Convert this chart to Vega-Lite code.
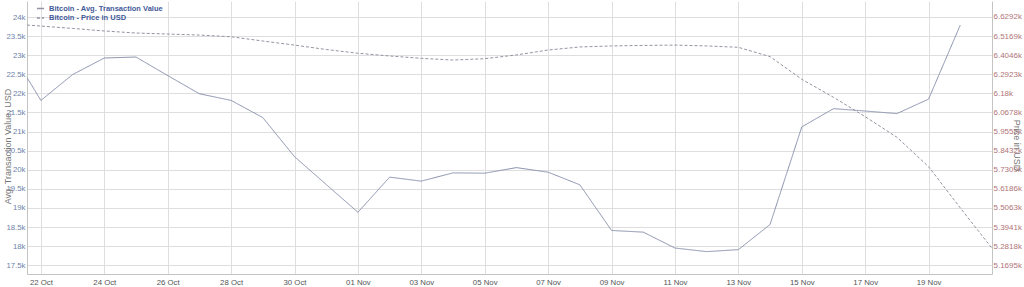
{
  "$schema": "https://vega.github.io/schema/vega-lite/v6.json",
  "width": 965,
  "height": 273,
  "autosize": "none",
  "padding": {"left": 27, "top": 1, "right": 32, "bottom": 13},
  "background": "white",
  "config": {"view": {"stroke": null}, "font": "Liberation Sans"},
  "data": {
    "values": [
      {"date": "2018-10-21T13:30:00", "avg": 22414, "price": 6582},
      {"date": "2018-10-22T00:00:00", "avg": 21816, "price": 6576},
      {"date": "2018-10-23T00:00:00", "avg": 22492, "price": 6562},
      {"date": "2018-10-24T00:00:00", "avg": 22926, "price": 6547},
      {"date": "2018-10-25T00:00:00", "avg": 22952, "price": 6535},
      {"date": "2018-10-26T00:00:00", "avg": 22466, "price": 6529},
      {"date": "2018-10-27T00:00:00", "avg": 21990, "price": 6523},
      {"date": "2018-10-28T00:00:00", "avg": 21816, "price": 6513},
      {"date": "2018-10-29T00:00:00", "avg": 21366, "price": 6488},
      {"date": "2018-10-30T00:00:00", "avg": 20342, "price": 6464},
      {"date": "2018-10-31T00:00:00", "avg": 19614, "price": 6438},
      {"date": "2018-11-01T00:00:00", "avg": 18886, "price": 6416},
      {"date": "2018-11-02T00:00:00", "avg": 19806, "price": 6400},
      {"date": "2018-11-03T00:00:00", "avg": 19702, "price": 6386},
      {"date": "2018-11-04T00:00:00", "avg": 19918, "price": 6376},
      {"date": "2018-11-05T00:00:00", "avg": 19910, "price": 6384},
      {"date": "2018-11-06T00:00:00", "avg": 20056, "price": 6406},
      {"date": "2018-11-07T00:00:00", "avg": 19936, "price": 6435},
      {"date": "2018-11-08T00:00:00", "avg": 19606, "price": 6453},
      {"date": "2018-11-09T00:00:00", "avg": 18410, "price": 6459},
      {"date": "2018-11-10T00:00:00", "avg": 18366, "price": 6462},
      {"date": "2018-11-11T00:00:00", "avg": 17950, "price": 6464},
      {"date": "2018-11-12T00:00:00", "avg": 17856, "price": 6459},
      {"date": "2018-11-13T00:00:00", "avg": 17908, "price": 6451},
      {"date": "2018-11-14T00:00:00", "avg": 18566, "price": 6396},
      {"date": "2018-11-15T00:00:00", "avg": 21122, "price": 6263},
      {"date": "2018-11-16T00:00:00", "avg": 21600, "price": 6157},
      {"date": "2018-11-17T00:00:00", "avg": 21538, "price": 6043},
      {"date": "2018-11-18T00:00:00", "avg": 21470, "price": 5922},
      {"date": "2018-11-19T00:00:00", "avg": 21850, "price": 5749},
      {"date": "2018-11-20T00:00:00", "avg": 23790, "price": 5506},
      {"date": "2018-11-21T00:00:00", "avg": null, "price": 5269}
    ]
  },
  "encoding": {
    "x": {
      "field": "date",
      "type": "temporal",
      "scale": {
        "domain": [
          {"year": 2018, "month": 10, "date": 21, "hours": 13, "minutes": 30},
          {"year": 2018, "month": 11, "date": 21}
        ]
      },
      "axis": {
        "title": null,
        "values": [
          {"year": 2018, "month": 10, "date": 22},
          {"year": 2018, "month": 10, "date": 24},
          {"year": 2018, "month": 10, "date": 26},
          {"year": 2018, "month": 10, "date": 28},
          {"year": 2018, "month": 10, "date": 30},
          {"year": 2018, "month": 11, "date": 1},
          {"year": 2018, "month": 11, "date": 3},
          {"year": 2018, "month": 11, "date": 5},
          {"year": 2018, "month": 11, "date": 7},
          {"year": 2018, "month": 11, "date": 9},
          {"year": 2018, "month": 11, "date": 11},
          {"year": 2018, "month": 11, "date": 13},
          {"year": 2018, "month": 11, "date": 15},
          {"year": 2018, "month": 11, "date": 17},
          {"year": 2018, "month": 11, "date": 19}
        ],
        "format": "%d %b",
        "labelColor": "#555555",
        "labelFontSize": 7.8,
        "labelFlush": false,
        "labelPadding": 4,
        "ticks": false,
        "grid": true,
        "gridColor": "#dedede",
        "domainColor": "#c4c4c4"
      }
    }
  },
  "layer": [
    {
      "mark": {"type": "line", "color": "#8790ab", "strokeWidth": 1, "clip": true},
      "encoding": {
        "y": {
          "field": "avg",
          "type": "quantitative",
          "scale": {"domain": [17270, 24419], "nice": false, "zero": false},
          "axis": {
            "orient": "left",
            "values": [17500, 18000, 18500, 19000, 19500, 20000, 20500, 21000, 21500, 22000, 22500, 23000, 23500, 24000],
            "format": "~s",
            "title": "Avg. Transaction Value, USD",
            "labelColor": "#6e82aa",
            "labelFontSize": 7.8,
            "labelPadding": 2,
            "ticks": false,
            "grid": true,
            "gridColor": "#dedede",
            "domainColor": "#c4c4c4",
            "titleColor": "#777777",
            "titleFontSize": 9,
            "titleFontWeight": "normal",
            "titleAngle": -90,
            "titleAlign": "center",
            "titleBaseline": "middle",
            "titleX": -20,
            "titleY": 145
          }
        },
        "strokeDash": {
          "datum": "Bitcoin - Avg. Transaction Value",
          "scale": {
            "domain": ["Bitcoin - Avg. Transaction Value", "Bitcoin - Price in USD"],
            "range": [[1, 0], [3, 2]]
          },
          "legend": {
            "orient": "none",
            "legendX": 9,
            "legendY": 3,
            "title": null,
            "symbolType": "stroke",
            "symbolStrokeColor": "#4a64a0",
            "symbolStrokeWidth": 1.5,
            "symbolSize": 50,
            "labelFontSize": 7.5,
            "labelFontWeight": "bold",
            "labelColor": "#3f5a98",
            "labelOffset": 4,
            "rowPadding": 1.5,
            "padding": 0
          }
        }
      }
    },
    {
      "mark": {"type": "line", "color": "#9494a2", "strokeWidth": 1, "clip": true},
      "encoding": {
        "y": {
          "field": "price",
          "type": "quantitative",
          "scale": {"domain": [5117.7, 6723.3], "nice": false, "zero": false},
          "axis": {
            "orient": "right",
            "values": [5169.5, 5281.8, 5394.1, 5506.3, 5618.6, 5730.9, 5843.2, 5955.5, 6067.8, 6180, 6292.3, 6404.6, 6516.9, 6629.2],
            "labelExpr": "format(datum.value / 1000, '~r') + 'k'",
            "title": "Price in USD",
            "labelColor": "#b07478",
            "labelFontSize": 8,
            "labelPadding": 1,
            "ticks": false,
            "grid": false,
            "domainColor": "#c4c4c4",
            "titleColor": "#777777",
            "titleFontSize": 9,
            "titleFontWeight": "normal",
            "titleAngle": 90,
            "titleAlign": "center",
            "titleBaseline": "middle",
            "titleX": 24,
            "titleY": 144
          }
        },
        "strokeDash": {"datum": "Bitcoin - Price in USD"}
      }
    }
  ],
  "resolve": {"scale": {"y": "independent"}}
}
